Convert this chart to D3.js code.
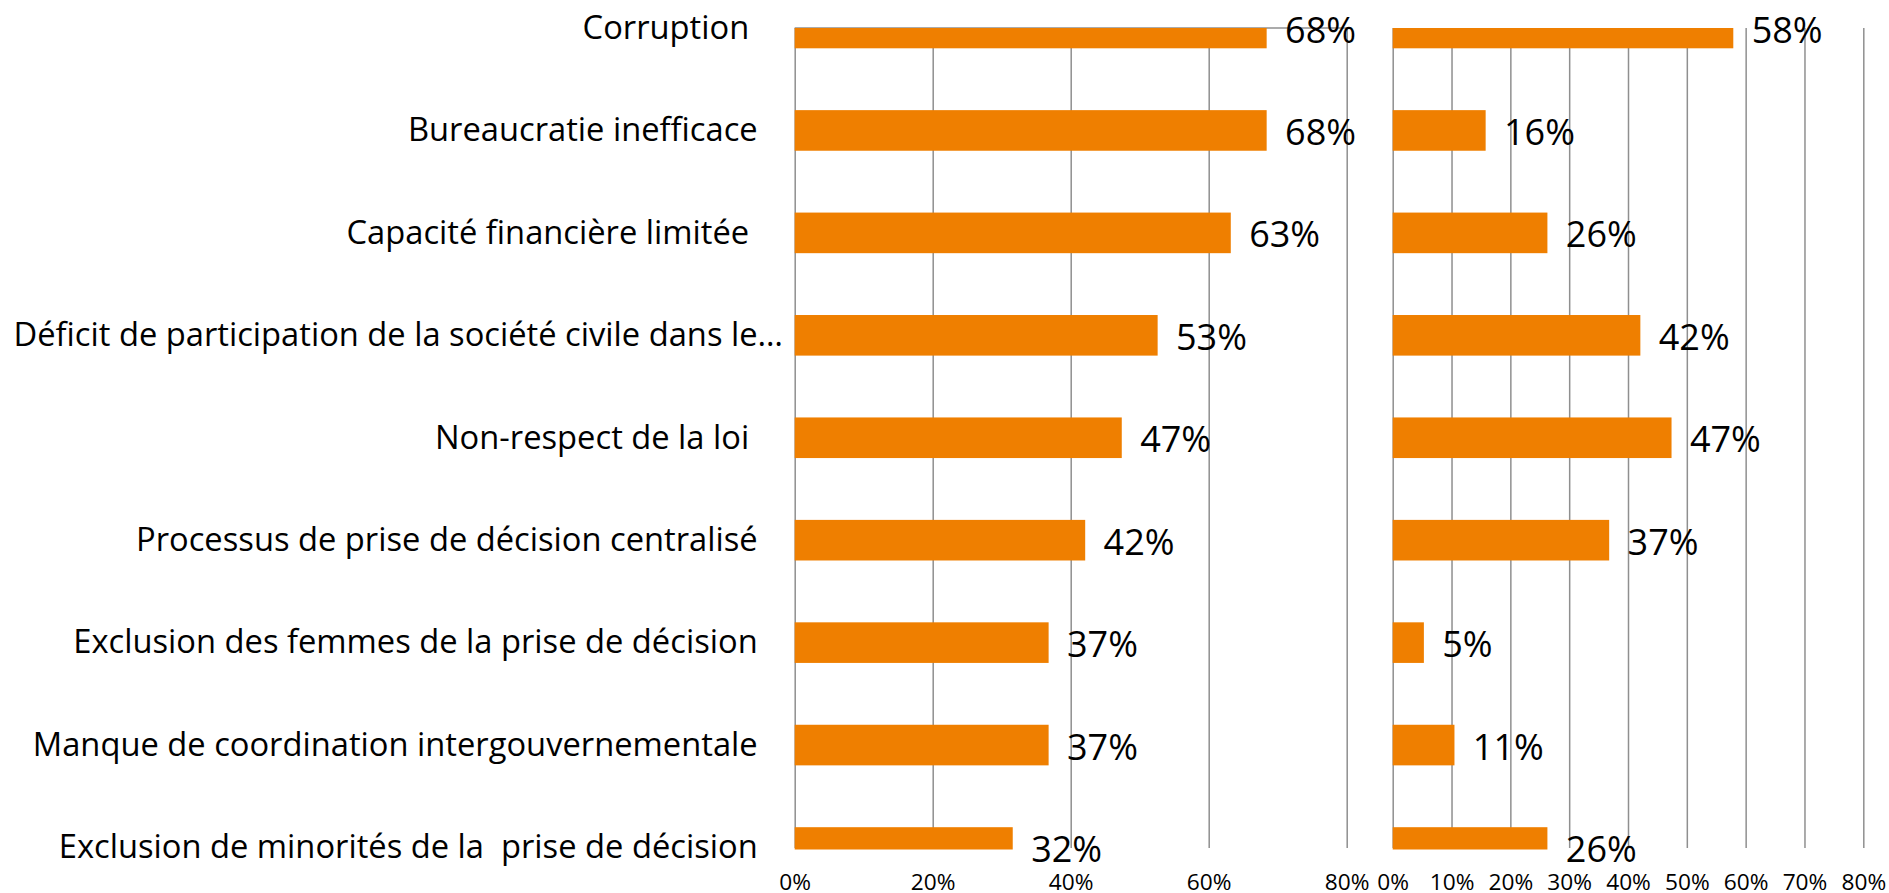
<!DOCTYPE html>
<html>
<head>
<meta charset="utf-8">
<script src="https://cdn.jsdelivr.net/npm/d3@7"></script>
<style>
    html, body { margin: 0; padding: 0; background: #fff; }
    svg { display: block; font-family: "Open Sans", Lato, sans-serif; }
    text { white-space: pre; }
</style>
</head>
<body>
<div id="chart"></div>
<script>
// categories (trailing spaces kept as in the original labels)
const categories = [
    "Corruption ",
    "Bureaucratie inefficace",
    "Capacité financière limitée ",
    "Déficit de participation de la société civile dans le…",
    "Non-respect de la loi ",
    "Processus de prise de décision centralisé",
    "Exclusion des femmes de la prise de décision",
    "Manque de coordination intergouvernementale",
    "Exclusion de minorités de la  prise de décision"
]
// share of answers, in %
const valuesLeft = [68.4, 68.4, 63.2, 52.6, 47.4, 42.1, 36.8, 36.8, 31.6]
const valuesRight = [57.9, 15.8, 26.3, 42.1, 47.4, 36.8, 5.3, 10.5, 26.3]
const ticksLeft = [0, 20, 40, 60, 80]
const ticksRight = [0, 10, 20, 30, 40, 50, 60, 70, 80]

const width = 1889
const height = 893
const plotTop = 28, plotBottom = 848
const barH = 40.6
const orange = "#ef7f00"
const gridColor = "#8f8f8f"

const svg = d3.select("#chart").append("svg")
    .attr("width", width)
    .attr("height", height)

const y = d3.scalePoint()
    .domain(categories)
    .range([plotTop, plotBottom - 0.5])

const xLeft = d3.scaleLinear().domain([0, 80]).range([794.7, 1346.7])
const xRight = d3.scaleLinear().domain([0, 80]).range([1392.7, 1863.3])

// category labels, right aligned
const labelX = 757.7
svg.append("g")
    .style("font-size", "32.7px")
    .attr("text-anchor", "end")
    .selectAll("text")
    .data(categories)
    .join("text")
    .attr("x", d => d.endsWith("…") ? 783 : labelX)
    .attr("y", d => y(d) + 10.8)
    .attr("fill", "#000")
    .text(d => d)

svg.append("defs").append("clipPath")
    .attr("id", "plotClip")
    .append("rect")
    .attr("x", 0).attr("y", plotTop)
    .attr("width", width).attr("height", plotBottom - plotTop + 1.5)

function panel(x, values, ticks, name, topLine) {
    const g = svg.append("g").attr("class", name)

    // grid + tick labels through the axis
    const axis = d3.axisBottom(x)
        .tickValues(ticks)
        .tickFormat(d => d + "%")
        .tickSizeInner(-(plotBottom - plotTop))
        .tickSizeOuter(0)

    const ax = g.append("g")
        .attr("transform", `translate(0,${plotBottom})`)
        .call(axis)
    ax.select(".domain").remove()
    ax.selectAll(".tick line")
        .attr("stroke", gridColor)
        .attr("stroke-width", 1.5)
    ax.selectAll(".tick text")
        .attr("y", 41.5)
        .attr("dy", null)
        .attr("fill", "#000")
        .style("font-size", "22.7px")
        .style("font-family", "'Open Sans', Lato, sans-serif")

    if (topLine) {
        g.append("line")
            .attr("x1", x(0)).attr("x2", x(80))
            .attr("y1", plotTop).attr("y2", plotTop)
            .attr("stroke", gridColor)
            .attr("stroke-width", 1.5)
    }

    g.append("g")
        .attr("clip-path", "url(#plotClip)")
        .selectAll("rect")
        .data(values)
        .join("rect")
        .attr("x", x(0))
        .attr("y", (d, i) => y(categories[i]) - barH / 2)
        .attr("width", d => x(d) - x(0))
        .attr("height", barH)
        .attr("fill", orange)

    g.append("g")
        .style("font-size", "36px")
        .selectAll("text")
        .data(values)
        .join("text")
        .attr("x", d => x(d) + 18.4)
        .attr("y", (d, i) => y(categories[i]) + 14.6)
        .attr("fill", "#000")
        .text(d => Math.round(d) + "%")
}

panel(xLeft, valuesLeft, ticksLeft, "left", true)
panel(xRight, valuesRight, ticksRight, "right", false)
</script>
</body>
</html>
